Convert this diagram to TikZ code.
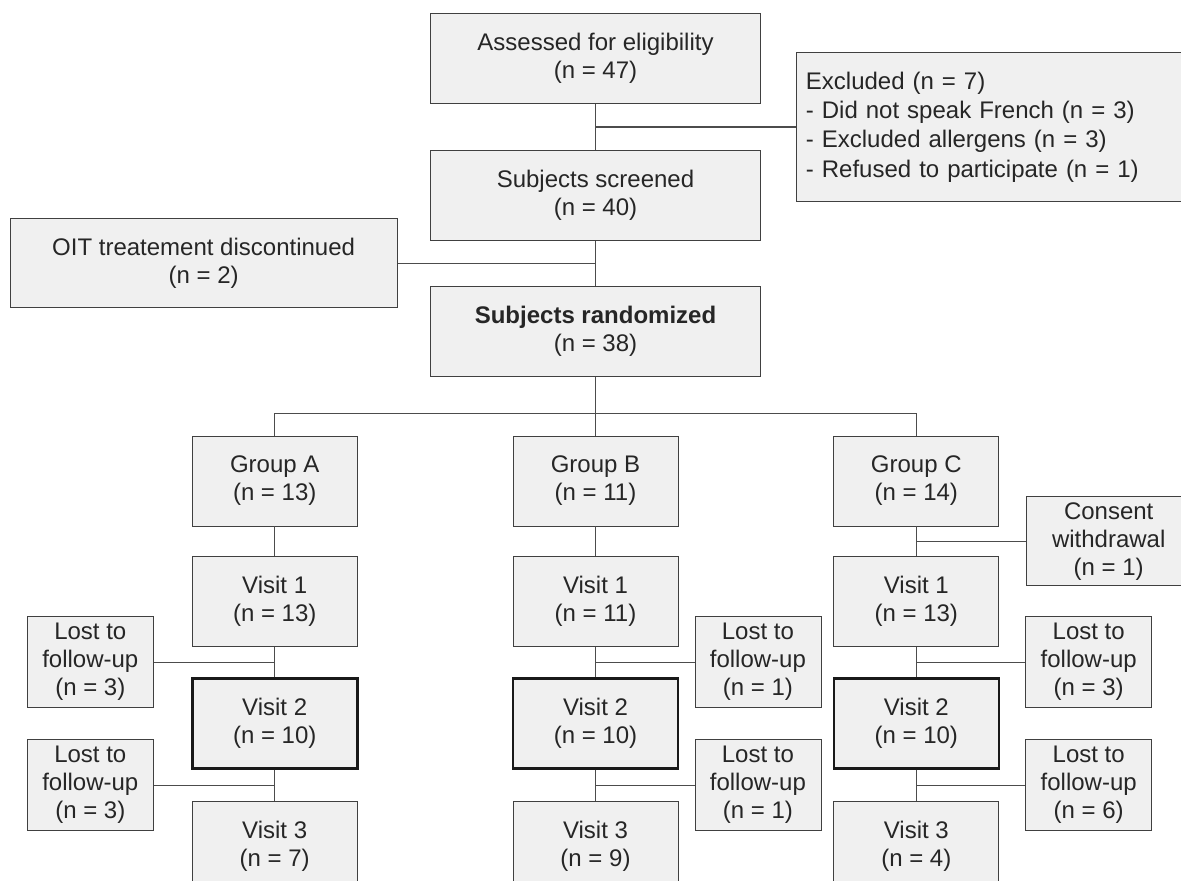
\documentclass[tikz,border=0pt]{standalone}
\usepackage{fontspec}
\setmainfont{Liberation Sans}
\usetikzlibrary{positioning}

\begin{document}
\begin{tikzpicture}[
    x=0.5pt, y=-0.5pt,
    font=\fontsize{12}{14}\selectfont,
    node distance=15pt,
    % --- generic flow box ---
    box/.style={draw=black!75, fill=black!6, text=black!85, align=center,
                inner sep=0pt, minimum width=82.5pt, minimum height=45pt},
    wide/.style={box, minimum width=165pt},
    % --- key visit (heavy frame) ---
    key/.style={box, draw=black!90, line width=1.3pt},
    % --- side boxes for losses ---
    lost/.style={box, minimum width=63pt, minimum height=45.5pt},
    link/.style={draw=black!70, line width=0.6pt},
  ]
  \useasboundingbox (0,0) rectangle (1181,880);
  \clip (0,0) rectangle (1181,880);

  % ---- ENROLMENT ----------------------------------------------------------
  \node[wide] (assess) at (595.5,58.5) {Assessed for eligibility\\(n = 47)};
  \node[wide, below=23pt of assess] (screen) {Subjects screened\\(n = 40)};
  \node[wide, below=22.5pt of screen] (rand)
        {\textbf{Subjects randomized}\\(n = 38)};
  \draw[link] (assess) -- (screen) -- (rand);

  % exclusions before screening
  \path (assess) -- coordinate (ex) (screen);
  \node[box, right=100pt of ex, minimum height=74.5pt, align=left,
        text width=184.5pt, inner xsep=5pt,
        font=\fontsize{12}{14.7}\selectfont] (excl)
        {Excluded (n = 7)\\
         - Did not speak French (n = 3)\\
         - Excluded allergens (n = 3)\\
         - Refused to participate (n = 1)};
  \draw[link] (ex) -- (excl);

  % discontinued before randomization
  \path (screen) -- coordinate (dc) (rand);
  \node[box, left=99pt of dc, minimum width=193.5pt, minimum height=44.5pt]
        (oit) {OIT treatement discontinued\\(n = 2)};
  \draw[link] (dc) -- (oit);

  % ---- ALLOCATION ---------------------------------------------------------
  \node[box, below=29.5pt of rand] (gb) {Group B\\(n = 11)};
  \node[box, left=77.5pt of gb] (ga) {Group A\\(n = 13)};
  \node[box, right=77.5pt of gb] (gc) {Group C\\(n = 14)};
  \path (gb.north) ++(0,-22) coordinate (split);
  \draw[link] (rand) -- (split) -- (gb);
  \draw[link] (ga) |- (split) -| (gc);

  % ---- GROUP A ------------------------------------------------------------
  \node[box, below=15pt of ga] (a1) {Visit 1\\(n = 13)};
  \node[key, below=15pt of a1] (a2) {Visit 2\\(n = 10)};
  \node[box, below=15.5pt of a2] (a3) {Visit 3\\(n = 7)};
  \draw[link] (ga) -- (a1) -- (a2) -- (a3);
  \path (a1) -- coordinate (a12) (a2);
  \path (a2) -- coordinate (a23) (a3);
  \node[lost, left=60.5pt of a12] (lossa1) {Lost to\\follow-up\\(n = 3)};
  \node[lost, left=60.5pt of a23] (lossa2) {Lost to\\follow-up\\(n = 3)};
  \draw[link] (a12) -- (lossa1);
  \draw[link] (a23) -- (lossa2);

  % ---- GROUP B ------------------------------------------------------------
  \node[box, below=15pt of gb] (b1) {Visit 1\\(n = 11)};
  \node[key, below=15pt of b1] (b2) {Visit 2\\(n = 10)};
  \node[box, below=15.5pt of b2] (b3) {Visit 3\\(n = 9)};
  \draw[link] (gb) -- (b1) -- (b2) -- (b3);
  \path (b1) -- coordinate (b12) (b2);
  \path (b2) -- coordinate (b23) (b3);
  \node[lost, right=49.5pt of b12] (lossb1) {Lost to\\follow-up\\(n = 1)};
  \node[lost, right=49.5pt of b23] (lossb2) {Lost to\\follow-up\\(n = 1)};
  \draw[link] (b12) -- (lossb1);
  \draw[link] (b23) -- (lossb2);

  % ---- GROUP C ------------------------------------------------------------
  \node[box, below=15pt of gc] (c1) {Visit 1\\(n = 13)};
  \node[key, below=15pt of c1] (c2) {Visit 2\\(n = 10)};
  \node[box, below=15.5pt of c2] (c3) {Visit 3\\(n = 4)};
  \draw[link] (gc) -- (c1) -- (c2) -- (c3);
  \path (gc) -- coordinate (gc1) (c1);
  \path (c1) -- coordinate (c12) (c2);
  \path (c2) -- coordinate (c23) (c3);
  \node[box, right=54.75pt of gc1, minimum height=44.5pt] (consent)
        {Consent\\withdrawal\\(n = 1)};
  \node[lost, right=54.5pt of c12] (lossc1) {Lost to\\follow-up\\(n = 3)};
  \node[lost, right=54.5pt of c23] (lossc2) {Lost to\\follow-up\\(n = 6)};
  \draw[link] (gc1) -- (consent);
  \draw[link] (c12) -- (lossc1);
  \draw[link] (c23) -- (lossc2);

\end{tikzpicture}
\end{document}
